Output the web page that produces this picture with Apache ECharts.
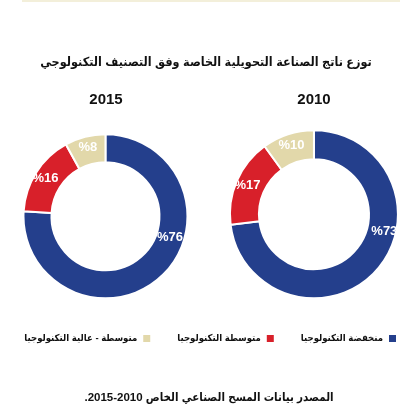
<!DOCTYPE html>
<html>
<head>
<meta charset="utf-8">
<script src="https://cdn.jsdelivr.net/npm/echarts@6/dist/echarts.min.js"></script>
<style>
    html, body { margin: 0; padding: 0; background: #fff; }
    #main { width: 412px; height: 416px; }
</style>
</head>
<body>
<div id="main" dir="rtl"></div>
<script>
// 数据
var chartTitle = 'توزع ناتج الصناعة التحويلية الخاصة وفق التصنيف التكنولوجي';
var sourceText = 'المصدر بيانات المسح الصناعي الخاص 2010-2015.';
var categories = ['منخفضة التكنولوجيا', 'متوسطة التكنولوجيا', 'متوسطة - عالية التكنولوجيا'];
var years = ['2015', '2010'];
var values2015 = [76, 16, 8];
var values2010 = [73, 17, 10];
var colors = ['#243f8c', '#d8202a', '#e2d8aa'];

var fontFamily = "'Liberation Sans', 'DejaVu Sans Condensed', 'DejaVu Sans', sans-serif";

function pieData(values) {
    var arr = [];
    for (var i = 0; i < values.length; i++) {
        arr.push({name: categories[i], value: values[i]});
    }
    return arr;
}

function pieSeries(values, center, radius) {
    return {
        type: 'pie',
        center: center,
        radius: radius,
        startAngle: 90,
        silent: true,
        itemStyle: {borderColor: '#fff', borderWidth: 2},
        label: {
            position: 'inside',
            formatter: '%{c}',
            color: '#fff',
            fontWeight: 'bold',
            fontSize: 13,
            fontFamily: fontFamily
        },
        labelLine: {show: false},
        // 第一块的标签挪到右侧
        labelLayout: function (p) {
            return p.dataIndex === 0 ? {dx: 16, dy: -31} : {};
        },
        data: pieData(values)
    };
}

var myChart = echarts.init(document.getElementById('main'));

var option = {
    color: colors,
    animation: false,
    graphic: [
        {type: 'rect', shape: {x: 22, y: 0, width: 378, height: 2}, style: {fill: '#f3efda'}},
        {type: 'text', x: 206, y: 63, style: {text: chartTitle, align: 'center', verticalAlign: 'middle',
            font: 'bold 12.5px ' + fontFamily, fill: '#111'}},
        {type: 'text', x: 106, y: 100, style: {text: years[0], align: 'center', verticalAlign: 'middle',
            font: 'bold 15px ' + fontFamily, fill: '#111'}},
        {type: 'text', x: 314, y: 100, style: {text: years[1], align: 'center', verticalAlign: 'middle',
            font: 'bold 15px ' + fontFamily, fill: '#111'}},
        {type: 'text', x: 209, y: 398, style: {text: sourceText, align: 'center', verticalAlign: 'middle',
            font: 'bold 11.5px ' + fontFamily, fill: '#111'}}
    ],
    legend: {
        data: [categories[2], categories[1], categories[0]],
        right: 9,
        top: 328,
        icon: 'rect',
        itemWidth: 9,
        itemHeight: 9,
        itemGap: 25,
        align: 'right',
        selectedMode: false,
        textStyle: {fontSize: 9.5, fontWeight: 'bold', color: '#111', fontFamily: fontFamily}
    },
    series: [
        pieSeries(values2015, ['25.6%', '52%'], [54, 82]),
        pieSeries(values2010, ['76.2%', '51.5%'], [55, 84])
    ]
};

window.addEventListener('resize', function () {
    myChart.resize();
});
myChart.setOption(option);
</script>
</body>
</html>
